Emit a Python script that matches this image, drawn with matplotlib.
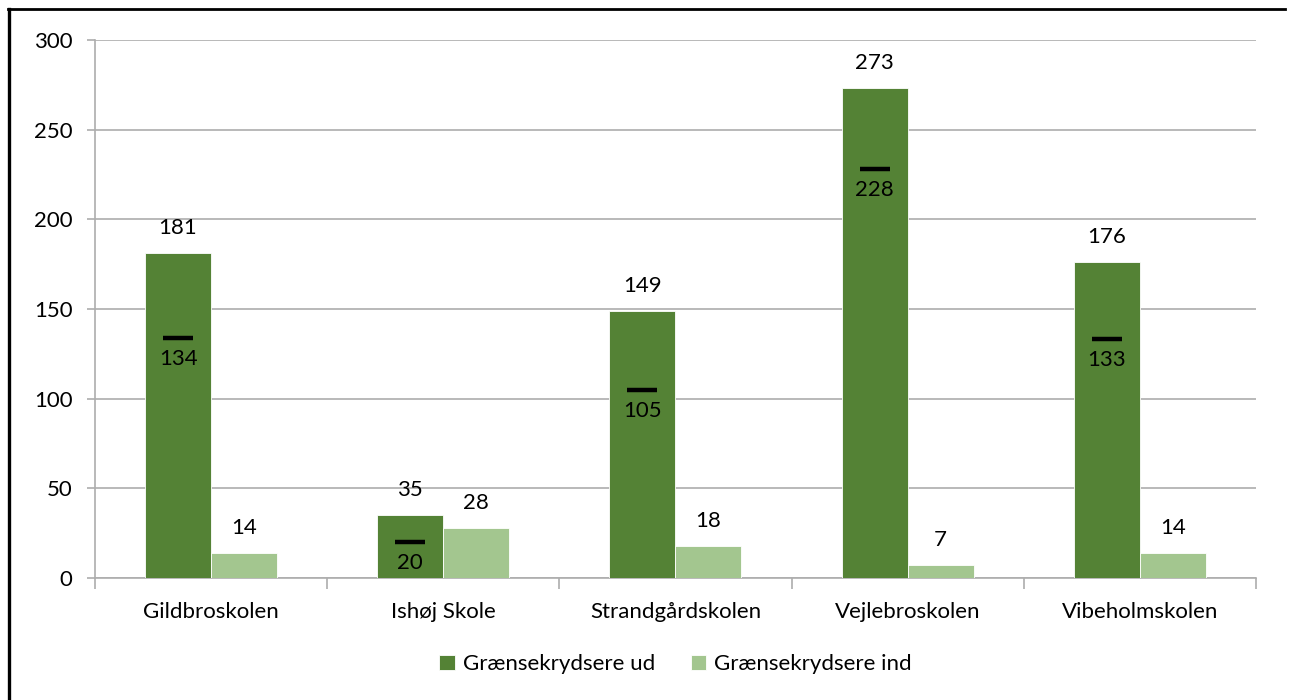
import matplotlib.pyplot as plt
import matplotlib.lines as mlines
import numpy as np

plt.rcParams['font.family'] = ['Lato', 'DejaVu Sans']

schools = ['Gildbroskolen', 'Ishøj Skole', 'Strandgårdskolen', 'Vejlebroskolen', 'Vibeholmskolen']
out_vals = [181, 35, 149, 273, 176]
in_vals = [14, 28, 18, 7, 14]
markers = [134, 20, 105, 228, 133]

dark = '#548235'
light = '#A3C68F'
grid_col = '#ADADAD'
fs = 16

fig = plt.figure(figsize=(12.9, 7), dpi=100)
ax = fig.add_axes([0.0736, 0.1743, 0.9, 0.7686])

x = np.arange(len(schools))
w = 0.284
ax.bar(x - w / 2, out_vals, w, color=dark, label='Grænsekrydsere ud', zorder=3,
       edgecolor='white', linewidth=0.6)
ax.bar(x + w / 2, in_vals, w, color=light, label='Grænsekrydsere ind', zorder=3,
       edgecolor='white', linewidth=0.6)

# value labels above bars
for xi, v in zip(x - w / 2, out_vals):
    ax.annotate(str(v), (xi, v), xytext=(0, 18), textcoords='offset points',
                ha='center', va='center', fontsize=fs)
for xi, v in zip(x + w / 2, in_vals):
    ax.annotate(str(v), (xi, v), xytext=(0, 18), textcoords='offset points',
                ha='center', va='center', fontsize=fs)

# black dash markers with label below
ax.plot(x - w / 2, markers, linestyle='none', marker='_', markersize=21,
        markeredgewidth=3.2, color='black', zorder=4)
for xi, m in zip(x - w / 2, markers):
    ax.annotate(str(m), (xi, m), xytext=(0, -15), textcoords='offset points',
                ha='center', va='center', fontsize=fs)

ax.set_xlim(-0.5, 4.5)
ax.set_ylim(0, 300)
ax.set_yticks(range(0, 301, 50))
ax.yaxis.grid(True, color=grid_col, linewidth=1.2, zorder=0)
ax.set_axisbelow(True)

ax.set_xticks(x)
ax.set_xticklabels(schools, fontsize=fs)
ax.set_xticks(np.arange(-0.5, 5, 1), minor=True)
ax.tick_params(axis='x', which='major', length=0, pad=17)
ax.tick_params(axis='x', which='minor', length=8, color=grid_col, width=1.2)
ax.tick_params(axis='y', length=6, color=grid_col, width=1.2, labelsize=fs, pad=10)

for s in ['top', 'right']:
    ax.spines[s].set_visible(False)
for s in ['left', 'bottom']:
    ax.spines[s].set_color(grid_col)
    ax.spines[s].set_linewidth(1.2)

ax.legend(loc='upper center', bbox_to_anchor=(0.5, -0.105), ncol=2, frameon=False,
          fontsize=fs, handlelength=0.7, handleheight=0.7, columnspacing=1.6,
          handletextpad=0.35)

# outer frame (left and top edges visible)
fig.add_artist(mlines.Line2D([0.007, 0.007], [0.0, 0.987], color='black', linewidth=2.4,
                             transform=fig.transFigure))
fig.add_artist(mlines.Line2D([0.006, 0.996], [0.987, 0.987], color='black', linewidth=2.0,
                             transform=fig.transFigure))

fig.savefig('out.png', dpi=100)
